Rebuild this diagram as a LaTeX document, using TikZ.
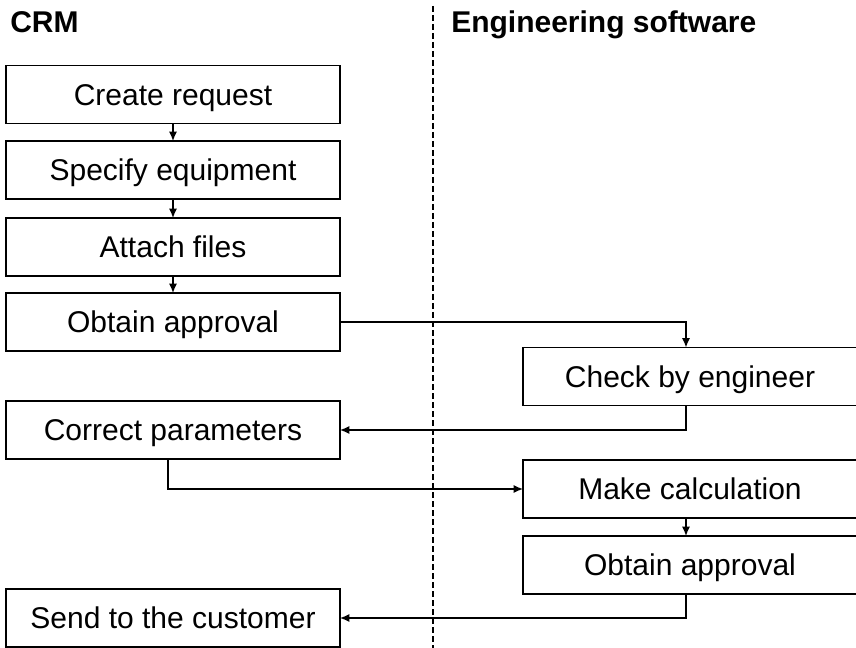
\documentclass[tikz,border=0pt]{standalone}
\usepackage{fontspec}
\setmainfont{Liberation Sans}
\usetikzlibrary{arrows.meta,calc}
\begin{document}
\begin{tikzpicture}[x=0.75pt,y=-0.75pt,
  box/.style={draw=black,line width=1.1pt,minimum width=250.5pt,minimum height=43.5pt,inner sep=0pt,outer sep=0pt,text height=16.1pt,text depth=0pt,font=\fontsize{22.5}{26}\selectfont},
  conn/.style={line width=1pt,-{Latex[length=7pt,width=6pt]}},
  head/.style={font=\fontsize{22.5}{26}\selectfont\bfseries,anchor=base west,inner sep=0pt},
  lane/.style={line width=1.1pt,dash pattern=on 4.5pt off 2.25pt}]
\useasboundingbox (0,0) rectangle (856,648);
\clip (0,0) rectangle (856,648);
% headers
\node[head] (hcrm) at (10,33) {CRM};
\node[head] (heng) at (451,33) {Engineering software};
% swimlane divider
\coordinate (lt) at (433,6);
\coordinate (lb) at (433,648);
\draw[lane] (lt) -- (lb);
% left column
\node[box] (cr)  at (173,94.5) {Create request};
\node[box] (se)  at (173,170)  {Specify equipment};
\node[box] (af)  at (173,247)  {Attach files};
\node[box] (oa1) at (173,322)  {Obtain approval};
\node[box] (cp)  at (173,430)  {Correct parameters};
\node[box] (sc)  at (173,618)  {Send to the customer};
% right column
\node[box] (cbe) at (690,376.5) {Check by engineer};
\node[box] (mc)  at (690,489)   {Make calculation};
\node[box] (oa2) at (690,565)   {Obtain approval};
% connector column
\coordinate (xc) at (686,0);
% connectors
\draw[conn] (cr.south) -- (se.north);
\draw[conn] (se.south) -- (af.north);
\draw[conn] (af.south) -- (oa1.north);
\draw[conn] (oa1.east) -| (xc |- cbe.north);
\draw[conn] (cbe.south -| xc) |- (cp.east);
\draw[conn] ($(cp.south)+(-5,0)$) |- (mc.west);
\draw[conn] (mc.south -| xc) -- (oa2.north -| xc);
\draw[conn] (oa2.south -| xc) |- (sc.east);
\end{tikzpicture}
\end{document}
